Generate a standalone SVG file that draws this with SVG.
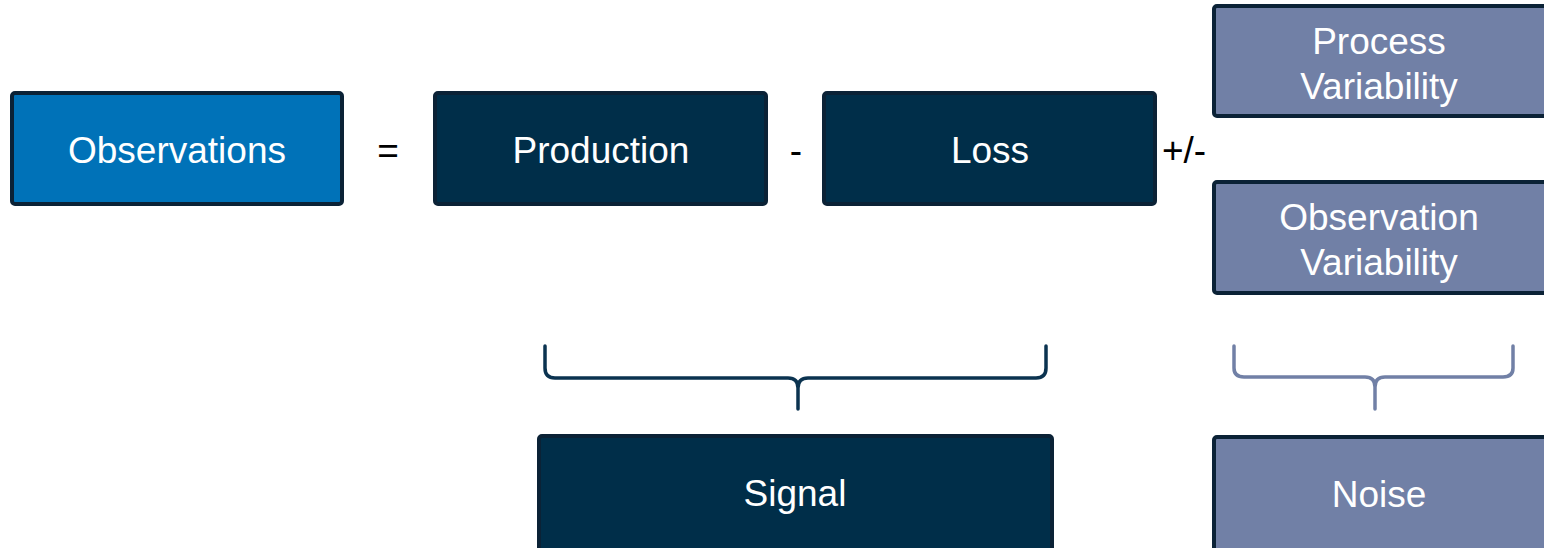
<svg xmlns="http://www.w3.org/2000/svg" width="1544" height="548" viewBox="0 0 1544 548">
<style>
.box{stroke:#0b2236;stroke-width:4}
.blue{fill:#0072b8}
.dark{fill:#002e49}
.grey{fill:#7180a6}
.t{font-family:"Liberation Sans",Arial,sans-serif;font-size:37px;fill:#ffffff;text-anchor:middle}
.op{font-family:"Liberation Sans",Arial,sans-serif;font-size:37px;fill:#000000;text-anchor:middle}
.brace{fill:none;stroke-width:3.5;stroke-linecap:round;stroke-linejoin:round}
</style>
<rect width="1544" height="548" fill="#ffffff"/>
<g id="observations">
<rect class="box blue" x="12" y="93" width="330" height="111" rx="3"/>
<text class="t" x="177" y="163">Observations</text>
</g>
<text class="op" x="388" y="163">=</text>
<g id="production">
<rect class="box dark" x="435" y="93" width="331" height="111" rx="3"/>
<text class="t" x="601" y="163">Production</text>
</g>
<text class="op" x="796" y="163">-</text>
<g id="loss">
<rect class="box dark" x="824" y="93" width="331" height="111" rx="3"/>
<text class="t" x="990" y="163">Loss</text>
</g>
<text class="op" x="1184" y="163">+/-</text>
<g id="process-variability">
<rect class="box grey" x="1214" y="6" width="334" height="110" rx="3"/>
<text class="t" x="1379" y="54">Process</text>
<text class="t" x="1379" y="99">Variability</text>
</g>
<g id="observation-variability">
<rect class="box grey" x="1214" y="182" width="334" height="111" rx="3"/>
<text class="t" x="1379" y="230">Observation</text>
<text class="t" x="1379" y="275">Variability</text>
</g>
<g id="signal">
<rect class="box dark" x="539" y="436" width="513" height="116" rx="3"/>
<text class="t" x="795" y="506">Signal</text>
</g>
<g id="noise">
<rect class="box grey" x="1214" y="437" width="334" height="115" rx="3"/>
<text class="t" x="1379" y="507">Noise</text>
</g>
<g id="connectors">
<path class="brace" stroke="#0b3350" d="M545 346 L545 368 Q545 378 555 378 L788 378 Q798 378 798 388 L798 409 M798 388 Q798 378 808 378 L1036 378 Q1046 378 1046 368 L1046 346"/>
<path class="brace" stroke="#7180a6" d="M1234 346 L1234 368 Q1234 377 1244 377 L1365 377 Q1375 377 1375 387 L1375 409 M1375 387 Q1375 377 1385 377 L1503 377 Q1513 377 1513 368 L1513 346"/>
</g>
</svg>
